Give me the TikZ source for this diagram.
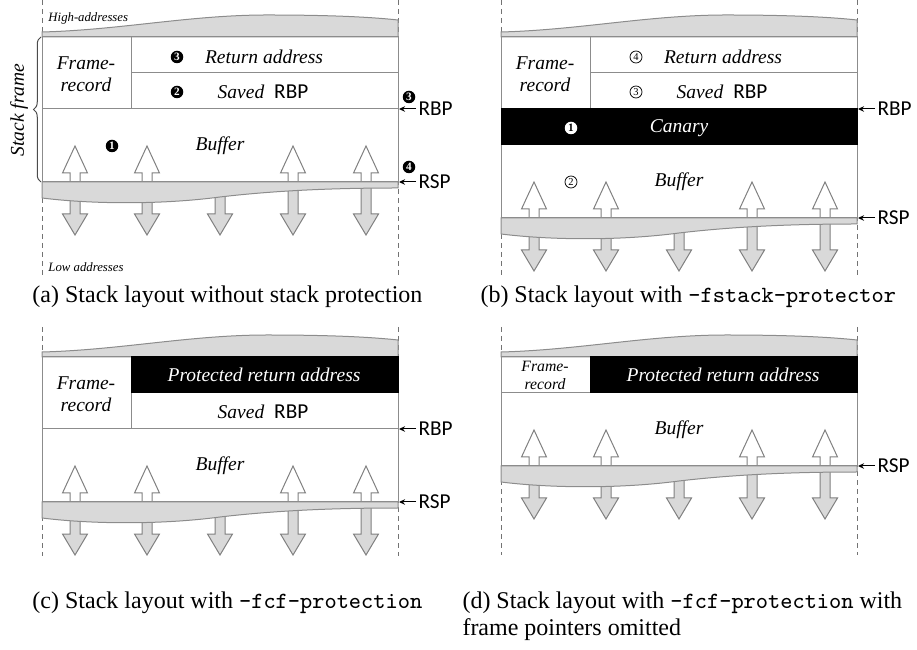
\documentclass[tikz,border=0pt]{standalone}
\usepackage{fontspec}
\setmainfont{Liberation Serif}
\newfontfamily\regfont{Carlito}
\usetikzlibrary{positioning,decorations.pathreplacing,arrows.meta}
\newcommand\regname[1]{{\regfont\upshape\fontsize{8.5}{10}\selectfont #1}}
\newcommand\gccflag[1]{{\fontsize{9.3}{10}\selectfont\ttfamily #1}}

\begin{document}
\begin{tikzpicture}[
        x=0.4pt, y=-0.4pt, % one unit is one pixel of the layout, y grows downwards
        % Gray outlines of the stack cells
        cell/.style={draw=black!45, line width=0.4pt},
        % Black cells that hold protected data
        darkcell/.style={fill=black, draw=black, line width=0.4pt},
        % Dashed borders of the stack area
        guide/.style={draw=black!55, line width=0.4pt, dash pattern=on 2pt off 1.6pt},
        % Gray bands of the neighbouring frames
        band/.style={fill=black!15, draw=black!45, line width=0.4pt},
        % Growth arrows of the buffer
        uparrow/.style={fill=white, draw=black!50, line width=0.4pt},
        downarrow/.style={fill=black!15, draw=black!50, line width=0.4pt},
        % Texts in the cells
        celltext/.style={font=\fontsize{7.8}{8.8}\selectfont\itshape, inner sep=0pt},
        smalltext/.style={font=\fontsize{6.3}{7.2}\selectfont\itshape, inner sep=0pt},
        edgetext/.style={font=\fontsize{5.1}{6}\selectfont\itshape, inner sep=0pt, anchor=west},
        reg/.style={font=\fontsize{8.5}{10}\selectfont\regfont, inner sep=0.8pt, anchor=west},
        % Step numbers: filled, open and white on black
        numfill/.style={circle, fill=black, text=white, inner sep=0pt, minimum size=5pt, font=\fontsize{4.5}{5}\selectfont\bfseries},
        numopen/.style={circle, draw=black, line width=0.3pt, inner sep=0pt, minimum size=4.8pt, font=\fontsize{4.2}{5}\selectfont},
        numwhite/.style={circle, fill=white, text=black, inner sep=0pt, minimum size=5pt, font=\fontsize{4.5}{5}\selectfont\bfseries},
        % Register pointers
        ptr/.style={-{Stealth[length=2.4pt,width=2.2pt]}, line width=0.4pt},
        caption/.style={font=\fontsize{9.6}{10.8}\selectfont, inner sep=0pt, anchor=west, align=left}
    ]

    \useasboundingbox (0,0) rectangle (917,650);

    % Common parts of one stack: #1 top and #2 bottom of the dashed borders, #3 stack pointer
    \def\stackbase#1#2#3{%
        \draw[guide] (42,#1) -- (42,#2) (398,#1) -- (398,#2);
        % arrows below and above the stack pointer
        \foreach \ax in {75,147,220,293,366}
            \draw[downarrow] (\ax-5,#3) -- (\ax-5,#3+32) -- (\ax-12.5,#3+32) -- (\ax,#3+53)
                -- (\ax+12.5,#3+32) -- (\ax+5,#3+32) -- (\ax+5,#3) -- cycle;
        \foreach \ax in {75,147,293,366}
            \draw[uparrow] (\ax-5,#3) -- (\ax-5,#3-9) -- (\ax-12.5,#3-9) -- (\ax,#3-36)
                -- (\ax+12.5,#3-9) -- (\ax+5,#3-9) -- (\ax+5,#3) -- cycle;
        % bands above and below the frame
        \filldraw[band] (42,37) -- (42,32) .. controls (120,30) and (190,15) .. (267,15)
            .. controls (330,15) and (370,17) .. (398,20) -- (398,37) -- cycle;
        \filldraw[band] (42,#3) -- (398,#3) -- (398,#3+6) .. controls (340,#3+6) and (280,#3+8) .. (220,#3+15)
            .. controls (160,#3+23) and (90,#3+22) .. (42,#3+16) -- cycle;
    }

    % (a) Stack layout without protection
    \begin{scope}
        \stackbase{0}{277}{182}
        \draw[cell] (42,37) rectangle (398,182);
        \draw[cell] (131,37) -- (131,109) (131,73) -- (398,73) (42,109) -- (398,109);
        \node[edgetext] (a-high) at (48,18) {High-addresses};
        \node[edgetext] (a-low) at (48,267) {Low addresses};
        \node[celltext, align=center] (a-frame) at (86,74) {Frame-\\record};
        \node[numfill] (a-n3) at (177,57) {3};
        \node[celltext] (a-ret) at (264,57) {Return address};
        \node[numfill] (a-n2) at (177,92) {2};
        \node[celltext] (a-saved) at (263,92) {Saved\hspace{4pt}\regname{RBP}};
        \node[numfill] (a-n1) at (112,146) {1};
        \node[celltext] (a-buf) at (220,146) {Buffer};
        % stack frame brace
        \node[celltext, rotate=90] (a-stack) at (19,110) {Stack frame};
        \draw[decorate, decoration={brace, amplitude=3pt}, draw=black!70, line width=0.4pt] (41,182) -- (41,37);
        % pointers
        \coordinate (a-bp) at (399,109);
        \coordinate (a-sp) at (399,182);
        \node[reg] (a-rbp) at (416,109) {RBP};
        \node[reg] (a-rsp) at (416,182) {RSP};
        \draw[ptr] (a-rbp.west) -- (a-bp);
        \draw[ptr] (a-rsp.west) -- (a-sp);
        \node[numfill] (a-n3r) at (409,97) {3};
        \node[numfill] (a-n4r) at (409,167) {4};
    \end{scope}

    % (b) Stack layout with a canary
    \begin{scope}[shift={(459,0)}]
        \stackbase{0}{277}{218}
        \draw[cell] (42,37) rectangle (398,218);
        \draw[cell] (131,37) -- (131,109) (131,73) -- (398,73);
        \filldraw[darkcell] (42,109) rectangle (398,145);
        \node[celltext, align=center] (b-frame) at (86,74) {Frame-\\record};
        \node[numopen] (b-n4) at (177,57) {4};
        \node[celltext] (b-ret) at (264,57) {Return address};
        \node[numopen] (b-n3) at (177,92) {3};
        \node[celltext] (b-saved) at (263,92) {Saved\hspace{4pt}\regname{RBP}};
        \node[numwhite] (b-n1) at (112,128) {1};
        \node[celltext, text=white] (b-canary) at (220,128) {Canary};
        \node[numopen] (b-n2) at (112,182) {2};
        \node[celltext] (b-buf) at (220,182) {Buffer};
        % pointers
        \coordinate (b-bp) at (399,109);
        \coordinate (b-sp) at (399,218);
        \node[reg] (b-rbp) at (416,109) {RBP};
        \node[reg] (b-rsp) at (416,218) {RSP};
        \draw[ptr] (b-rbp.west) -- (b-bp);
        \draw[ptr] (b-rsp.west) -- (b-sp);
    \end{scope}

    % (c) Stack layout with a protected return address
    \begin{scope}[shift={(0,320)}]
        \stackbase{7}{236}{182}
        \draw[cell] (42,37) rectangle (398,182);
        \draw[cell] (131,37) -- (131,109) (42,109) -- (398,109);
        \filldraw[darkcell] (131,37) rectangle (398,73);
        \node[celltext, align=center] (c-frame) at (86,74) {Frame-\\record};
        \node[celltext, text=white] (c-ret) at (264,55) {Protected return address};
        \node[celltext] (c-saved) at (263,92) {Saved\hspace{4pt}\regname{RBP}};
        \node[celltext] (c-buf) at (220,146) {Buffer};
        % pointers
        \coordinate (c-bp) at (399,109);
        \coordinate (c-sp) at (399,182);
        \node[reg] (c-rbp) at (416,109) {RBP};
        \node[reg] (c-rsp) at (416,182) {RSP};
        \draw[ptr] (c-rbp.west) -- (c-bp);
        \draw[ptr] (c-rsp.west) -- (c-sp);
    \end{scope}

    % (d) Same without frame pointer
    \begin{scope}[shift={(459,320)}]
        \stackbase{7}{235}{146}
        \draw[cell] (42,37) rectangle (398,146);
        \draw[cell] (42,73) -- (131,73);
        \filldraw[darkcell] (131,37) rectangle (398,73);
        \node[smalltext, align=center] (d-frame) at (86,55) {Frame-\\record};
        \node[celltext, text=white] (d-ret) at (264,55) {Protected return address};
        \node[celltext] (d-buf) at (220,110) {Buffer};
        % pointer
        \coordinate (d-sp) at (399,146);
        \node[reg] (d-rsp) at (416,146) {RSP};
        \draw[ptr] (d-rsp.west) -- (d-sp);
    \end{scope}

    % Captions
    \node[caption] (cap-a) at (32,297) {(a) Stack layout without stack protection};
    \node[caption] (cap-b) at (480,297) {(b) Stack layout with \gccflag{-fstack-protector}};
    \node[caption] (cap-c) at (32,603) {(c) Stack layout with \gccflag{-fcf-protection}};
    \node[caption] (cap-d) at (462,616) {(d) Stack layout with \gccflag{-fcf-protection} with\\frame pointers omitted};

\end{tikzpicture}
\end{document}
